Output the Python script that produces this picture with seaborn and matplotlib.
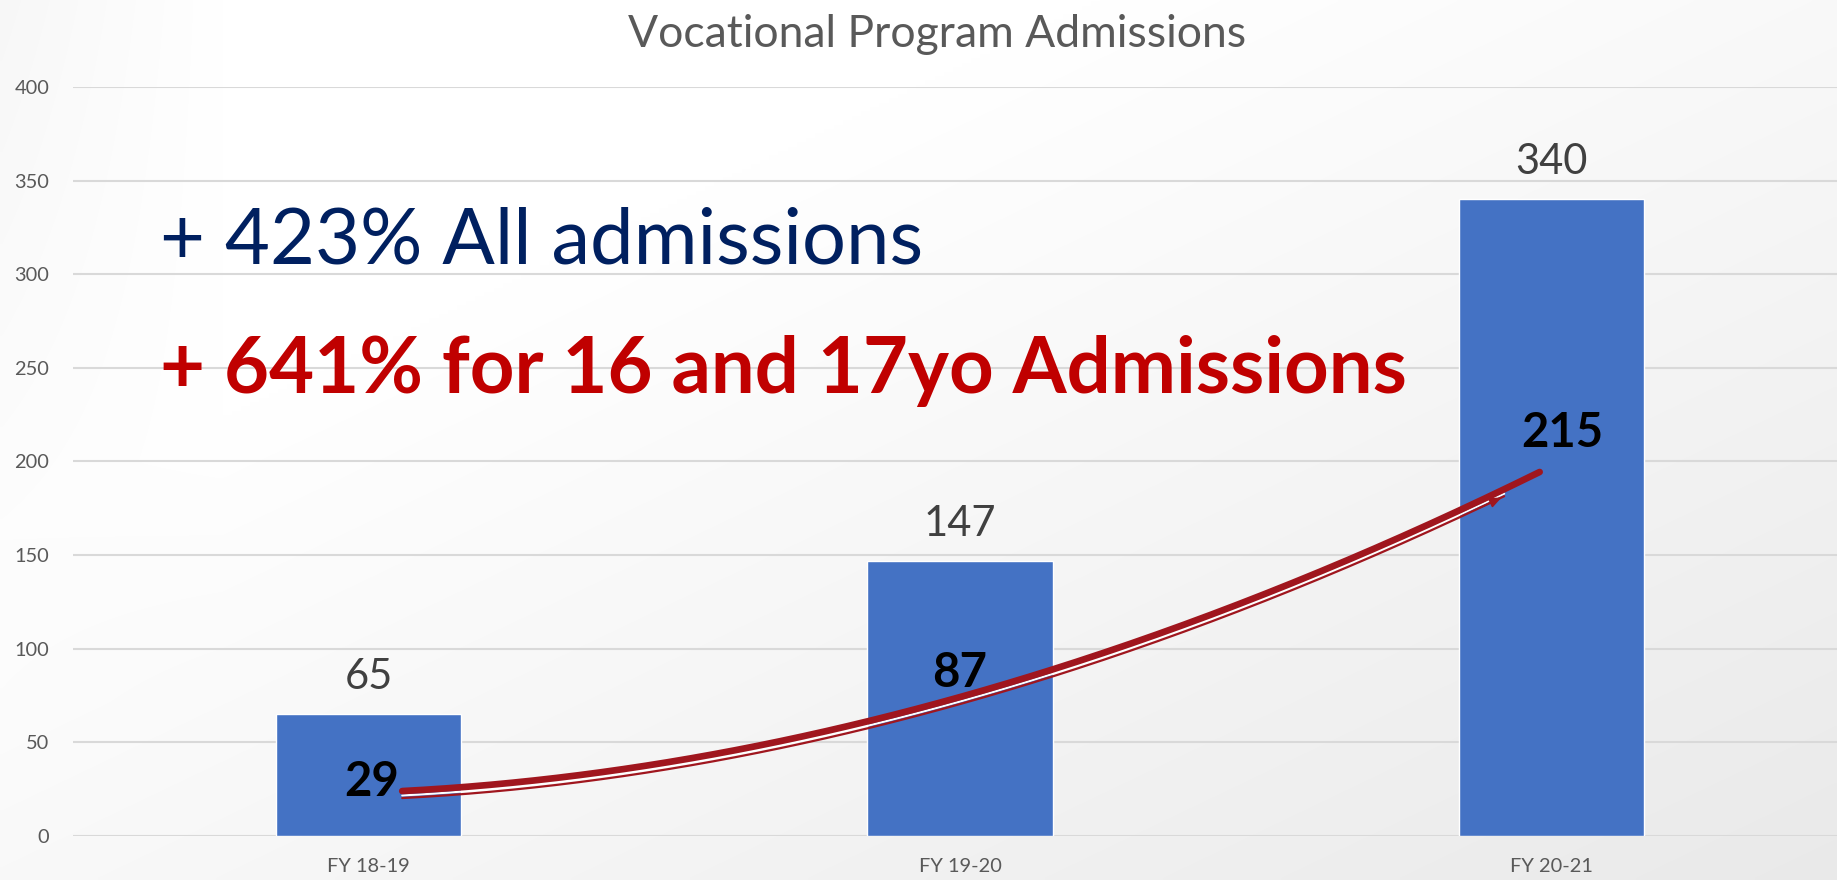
import numpy as np
import pandas as pd
import matplotlib
matplotlib.use("Agg")
import matplotlib.pyplot as plt
import matplotlib.transforms as mtransforms
import seaborn as sns

# ---- data ----
years = ["FY 18-19", "FY 19-20", "FY 20-21"]
all_admissions = [65, 147, 340]
youth_admissions = [29, 87, 215]
y_ticks = [0, 50, 100, 150, 200, 250, 300, 350, 400]
title_text = "Vocational Program Admissions"
headline_all = "+ 423% All admissions"
headline_youth = "+ 641% for 16 and 17yo Admissions"
# trend arrow (start, middle, end) in category/value coordinates
trend_x = [0.057, 1.0, 1.98]
trend_y = [24, 74.2, 194.4]

df = pd.DataFrame({"year": years, "all": all_admissions, "youth": youth_admissions})

sns.set_theme(style="white")
plt.rcParams["font.family"] = ["Lato", "DejaVu Sans"]

W, H = 1837, 880
fig = plt.figure(figsize=(W / 100, H / 100), dpi=100)

# background gradient
gx = np.linspace(0, 1, 400)
gy = np.linspace(0, 1, 200)
X, Y = np.meshgrid(gx, gy)  # Y = 0 at top
v = 1 - 0.085 * np.clip(((X + Y) / 2 - 0.3) / 0.7, 0, 1)
v -= 0.03 * np.clip(1 - X / 0.12, 0, 1) * np.clip(1 - Y / 0.8, 0, 1)
bg = np.dstack([v, v, v])
bgax = fig.add_axes([0, 0, 1, 1], zorder=-10)
bgax.imshow(bg, aspect="auto", extent=[0, 1, 0, 1], interpolation="bilinear")
bgax.axis("off")

left_px, right_px = 72.75, 1837
bottom_px, top_px = 836, 87
ax = fig.add_axes([left_px / W, (H - bottom_px) / H, (right_px - left_px) / W,
                   (bottom_px - top_px) / H])
ax.patch.set_alpha(0)

sns.barplot(data=df, x="year", y="all", color="#4472C4", saturation=1,
            width=0.3128, ax=ax, zorder=3)

ax.set_xlim(-0.5, (right_px - 368.5) / 591.5)
ax.set_ylim(0, 400)
ax.set_yticks(y_ticks)
ax.set_xlabel("")
ax.set_ylabel("")
for s in ax.spines.values():
    s.set_visible(False)
ax.grid(axis="y", color="#d9d9d9", lw=1.5, zorder=0)
ax.grid(axis="x", visible=False)
ax.tick_params(axis="y", length=0, pad=17, labelsize=14.4, labelcolor="#595959")
ax.tick_params(axis="x", length=0, pad=16, labelsize=14.4, labelcolor="#595959")

# value labels above bars
for i, val in enumerate(all_admissions):
    ax.annotate(str(val), xy=(i, val), xytext=(0, 18), textcoords="offset points",
                ha="center", va="baseline", fontsize=30, color="#404040", zorder=5)

# youth labels inside bars
label_dx = [0.006, 0.0, 0.019]
for i, val in enumerate(youth_admissions):
    ax.text(i + label_dx[i], val, str(val), ha="center", va="center", fontsize=34,
            fontweight="bold", color="black", zorder=6)

# trend curve (quadratic bezier through middle point)
P0 = np.array([trend_x[0], trend_y[0]])
P2 = np.array([trend_x[2], trend_y[2]])
M = np.array([trend_x[1], trend_y[1]])
P1 = 2 * M - 0.5 * (P0 + P2)
t = np.linspace(0, 1, 300)[:, None]
curve = (1 - t) ** 2 * P0 + 2 * t * (1 - t) * P1 + t ** 2 * P2
red = "#A0161E"
ax.plot(curve[:, 0], curve[:, 1], color=red, lw=4.8, solid_capstyle="round",
        zorder=7)
off_white = mtransforms.offset_copy(ax.transData, fig=fig, x=0, y=-4.4, units="dots")
off_thin = mtransforms.offset_copy(ax.transData, fig=fig, x=0, y=-7.0, units="dots")
thin = curve[curve[:, 0] <= 1.925]
ax.plot(thin[:, 0], thin[:, 1], color="white", lw=1.5, transform=off_white, zorder=6.5)
ax.plot(thin[:, 0], thin[:, 1], color=red, lw=1.6, transform=off_thin, zorder=6.6)
# small arrow head on thin line
ax.annotate("", xy=(thin[-1, 0], thin[-1, 1]), xytext=(thin[-8, 0], thin[-8, 1]),
            xycoords=off_thin, textcoords=off_thin,
            arrowprops=dict(arrowstyle="-|>,head_length=0.6,head_width=0.25",
                            color=red, lw=1.2), zorder=6.7)

# title and headlines
fig.text(937 / W, (H - 47) / H, title_text, ha="center", va="baseline",
         fontsize=32, color="#595959", fontweight="normal")
fig.text(160 / W, (H - 263) / H, headline_all, ha="left", va="baseline",
         fontsize=56, color="#002060")
fig.text(160 / W, (H - 393) / H, headline_youth, ha="left", va="baseline",
         fontsize=56, color="#C00000", fontweight="bold")

fig.savefig("out.png", dpi=100)
